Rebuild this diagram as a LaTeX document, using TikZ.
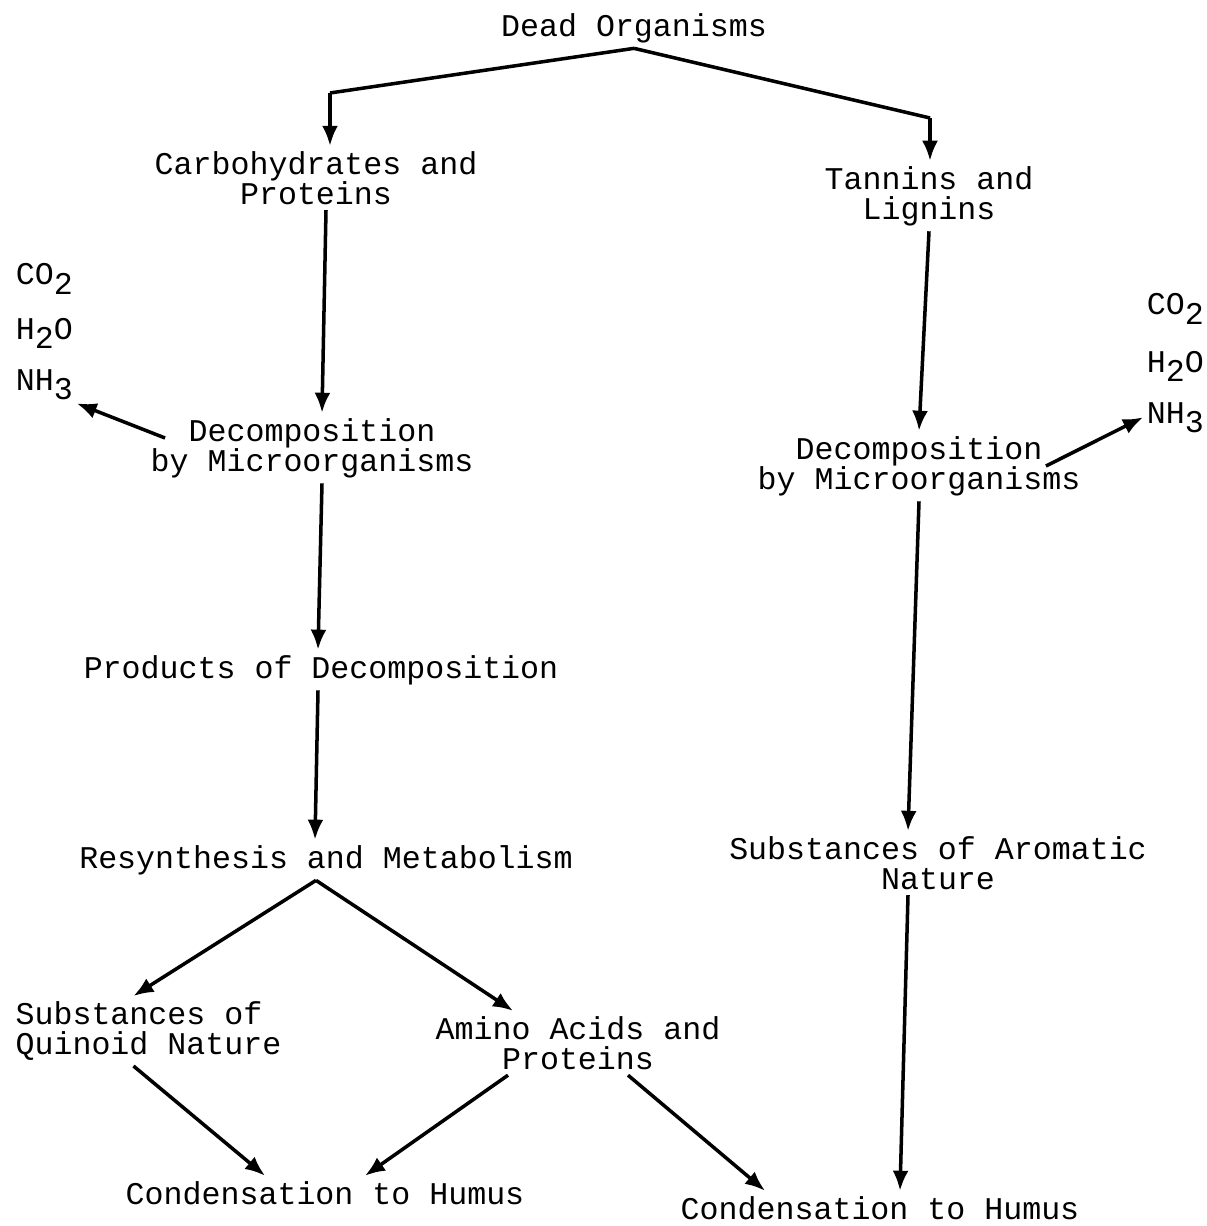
\documentclass[tikz,border=0pt]{standalone}
\usepackage{fontspec}
\setmainfont{Liberation Mono}
\usetikzlibrary{arrows.meta}
\newcommand{\lowd}[1]{\raisebox{-0.55ex}{#1}}

\begin{document}
\begin{tikzpicture}[x=0.02cm,y=-0.02cm,
  lbl/.style={font=\fontsize{18}{17}\selectfont,inner sep=3pt,align=center},
  chem/.style={font=\fontsize{18}{17}\selectfont,inner sep=2pt,anchor=base west},
  arr/.style={line width=2pt,-{Latex[length=4mm,width=3.2mm]}}]
\useasboundingbox (0,0) rectangle (1206,1226);

% top
\node[lbl] (dead) at (634,28) {Dead Organisms};
\node[lbl] (carb) at (316,178) {Carbohydrates and\\Proteins};
\node[lbl] (tann) at (929,196) {Tannins and\\Lignins};

% decomposition
\node[lbl] (decL) at (312,448) {Decomposition\\by Microorganisms};
\node[lbl] (decR) at (919,466) {Decomposition\\by Microorganisms};

\node[chem] (co2L) at (12,285) {CO\lowd{2}};
\node[chem] (h2oL) at (12,339) {H\lowd{2}O};
\node[chem] (nh3L) at (12,390) {NH\lowd{3}};
\node[chem] (co2R) at (1143,315) {CO\lowd{2}};
\node[chem] (h2oR) at (1143,372) {H\lowd{2}O};
\node[chem] (nh3R) at (1143,423) {NH\lowd{3}};

% lower part
\node[lbl] (prod) at (321,670) {Products of Decomposition};
\node[lbl] (resyn) at (326,860) {Resynthesis and Metabolism};
\node[lbl] (arom) at (938,863) {Substances of Aromatic\\Nature};
\node[lbl,align=left,anchor=west] (quin) at (10,1031) {Substances of\\Quinoid Nature};
\node[lbl] (amino) at (578,1043) {Amino Acids and\\Proteins};
\node[lbl] (condL) at (325,1193) {Condensation to Humus};
\node[lbl] (condR) at (880,1208) {Condensation to Humus};

\coordinate (kL) at (330,93);
\coordinate (kR) at (930,118);

\draw[line width=2pt] (dead.south) -- (kL);
\draw[arr] (kL) -- (kL |- carb.north);
\draw[line width=2pt] (dead.south) -- (kR);
\draw[arr] (kR) -- (kR |- tann.north);

\draw[arr] ([xshift=0.2cm]carb.south) -- ([xshift=0.2cm]decL.north);
\draw[arr] (tann.south) -- (decR.north);
\draw[arr] ([xshift=0.4cm,yshift=0.2cm]decL.west) -- (nh3L.south east);
\draw[arr] ([xshift=-0.8cm]decR.east) -- (nh3R.west);

\draw[arr] ([xshift=0.2cm]decL.south) -- ([xshift=-0.06cm]prod.north);
\draw[arr] ([xshift=-0.06cm]prod.south) -- ([xshift=-0.22cm]resyn.north);
\draw[arr] (decR.south) -- ([xshift=-0.6cm]arom.north);

\draw[arr] ([xshift=-0.2cm]resyn.south) -- ([xshift=-0.3cm]quin.north);
\draw[arr] ([xshift=-0.2cm]resyn.south) -- ([xshift=-1.3cm]amino.north);
\draw[arr] ([xshift=-0.3cm]quin.south) -- ([xshift=-1.2cm]condL.north);
\draw[arr] ([xshift=-1.4cm]amino.south) -- ([xshift=0.8cm]condL.north);
\draw[arr] ([xshift=1cm]amino.south) -- ([xshift=-2.3cm]condR.north);
\draw[arr] ([xshift=-0.6cm]arom.south) -- ([xshift=0.4cm]condR.north);

\end{tikzpicture}
\end{document}
